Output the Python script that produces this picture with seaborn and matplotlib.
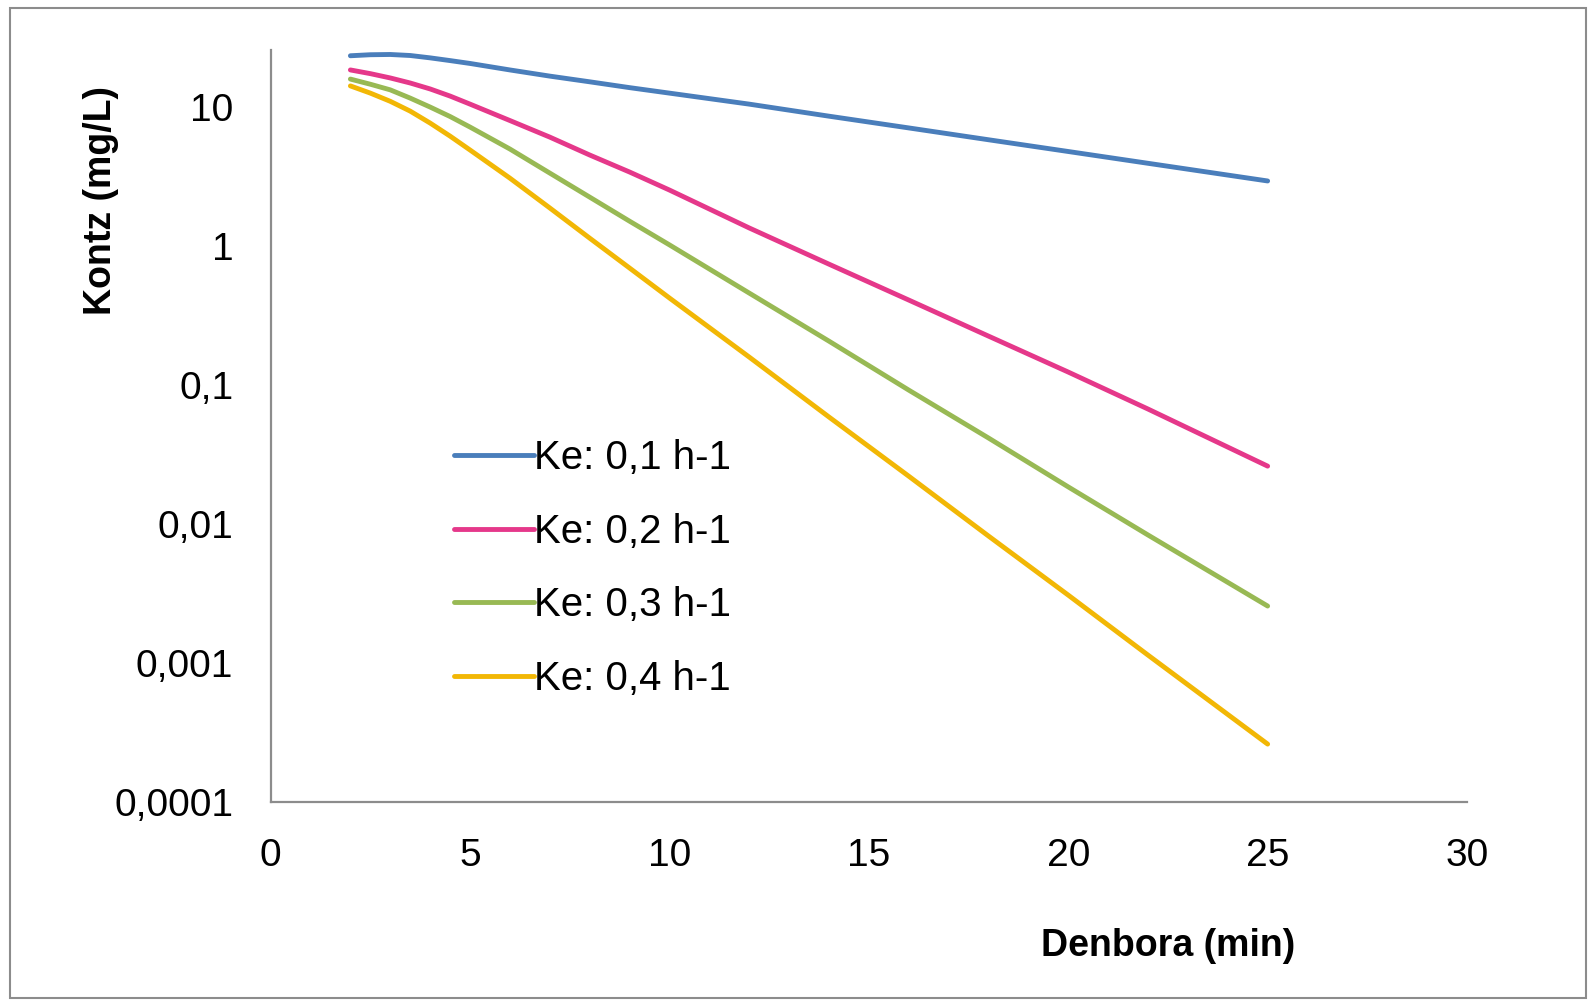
import numpy as np
import pandas as pd
import seaborn as sns
from matplotlib import pyplot as plt
from matplotlib.patches import Rectangle
from matplotlib.ticker import FixedLocator, FixedFormatter, NullLocator

# denbora (min)
time_min = [2, 2.5, 3, 3.5, 4, 4.5, 5, 6, 7, 8, 9, 10, 12, 14, 16, 18, 20, 22, 25]

# kontzentrazioa (mg/L), grafikotik irakurrita
conc_ke01 = [23.4, 23.8, 23.9, 23.5, 22.6, 21.6, 20.6, 18.5, 16.7, 15.2, 13.8, 12.6,
	10.5, 8.6, 7.08, 5.82, 4.79, 3.94, 2.94]
conc_ke02 = [18.5, 17.4, 16.2, 14.9, 13.5, 12.0, 10.5, 8.0, 6.08, 4.52, 3.41, 2.53,
	1.35, 0.741, 0.409, 0.225, 0.124, 0.0672, 0.0261]
conc_ke03 = [15.9, 14.6, 13.3, 11.6, 10.0, 8.55, 7.18, 4.99, 3.35, 2.25, 1.51, 1.02,
	0.459, 0.207, 0.092, 0.0416, 0.0185, 0.00834, 0.00257]
conc_ke04 = [14.2, 12.6, 11.0, 9.35, 7.67, 6.18, 4.91, 3.08, 1.88, 1.14, 0.695, 0.423,
	0.159, 0.0589, 0.0221, 0.0082, 0.00308, 0.00114, 0.000261]

series_labels = ['Ke: 0,1 h-1', 'Ke: 0,2 h-1', 'Ke: 0,3 h-1', 'Ke: 0,4 h-1']
y_ticks = [0.0001, 0.001, 0.01, 0.1, 1, 10]
y_tick_labels = ['0,0001', '0,001', '0,01', '0,1', '1', '10']
x_ticks = [0, 5, 10, 15, 20, 25, 30]

colors = ['#4A7EBB', '#E5388A', '#98B954', '#F2B705']

df = pd.concat([
	pd.DataFrame({'time': time_min, 'conc': vals, 'serie': lab})
	for vals, lab in zip([conc_ke01, conc_ke02, conc_ke03, conc_ke04], series_labels)
])

sns.set_theme(style='white')
plt.rcParams['font.family'] = ['Liberation Sans', 'DejaVu Sans']
plt.rcParams['text.color'] = 'black'
plt.rcParams['axes.labelcolor'] = 'black'

fig = plt.figure(figsize=(15.92, 10.02), dpi=100)
ax = fig.add_axes([0.170, 0.1996, 0.7515, 0.7504])

sns.lineplot(
	data=df, x='time', y='conc', hue='serie',
	palette=dict(zip(series_labels, colors)),
	linewidth=3.5, ax=ax, legend=True,
)
for line in ax.get_lines():
	line.set_solid_joinstyle('round')
	line.set_solid_capstyle('round')

ax.set_yscale('log')
ax.set_ylim(0.0001, 25.7)
ax.set_xlim(0, 30)
ax.yaxis.set_major_locator(FixedLocator(y_ticks))
ax.yaxis.set_major_formatter(FixedFormatter(y_tick_labels))
ax.yaxis.set_minor_locator(NullLocator())
ax.set_xticks(x_ticks)
ax.tick_params(axis='both', length=0, labelsize=28, colors='black')
ax.tick_params(axis='y', pad=27)
ax.tick_params(axis='x', pad=26)

for side in ['top', 'right']:
	ax.spines[side].set_visible(False)
for side in ['left', 'bottom']:
	ax.spines[side].set_color('#8c8c8c')
	ax.spines[side].set_linewidth(1.6)

ax.set_ylabel('Kontz (mg/L)', fontsize=27, fontweight='bold', va='center')
ax.yaxis.set_label_coords(-0.142, 0.80)
ax.set_xlabel('Denbora (min)', fontsize=27, fontweight='bold', va='center')
ax.xaxis.set_label_coords(0.75, -0.191)

# legenda
leg = ax.legend(
	loc='center left', bbox_to_anchor=(0.285, 0.4326), bbox_transform=fig.transFigure,
	frameon=False, fontsize=29, handlelength=2.0, handletextpad=0.0,
	borderpad=0, borderaxespad=0, labelspacing=0.89,
)
for line in leg.get_lines():
	line.set_linewidth(3.5)

# kanpoko markoa
fig.patches.append(Rectangle(
	(0.006, 0.004), 0.990, 0.988, transform=fig.transFigure,
	fill=False, edgecolor='#8c8c8c', linewidth=1.5,
))

plt.savefig('out.png', dpi=100)
